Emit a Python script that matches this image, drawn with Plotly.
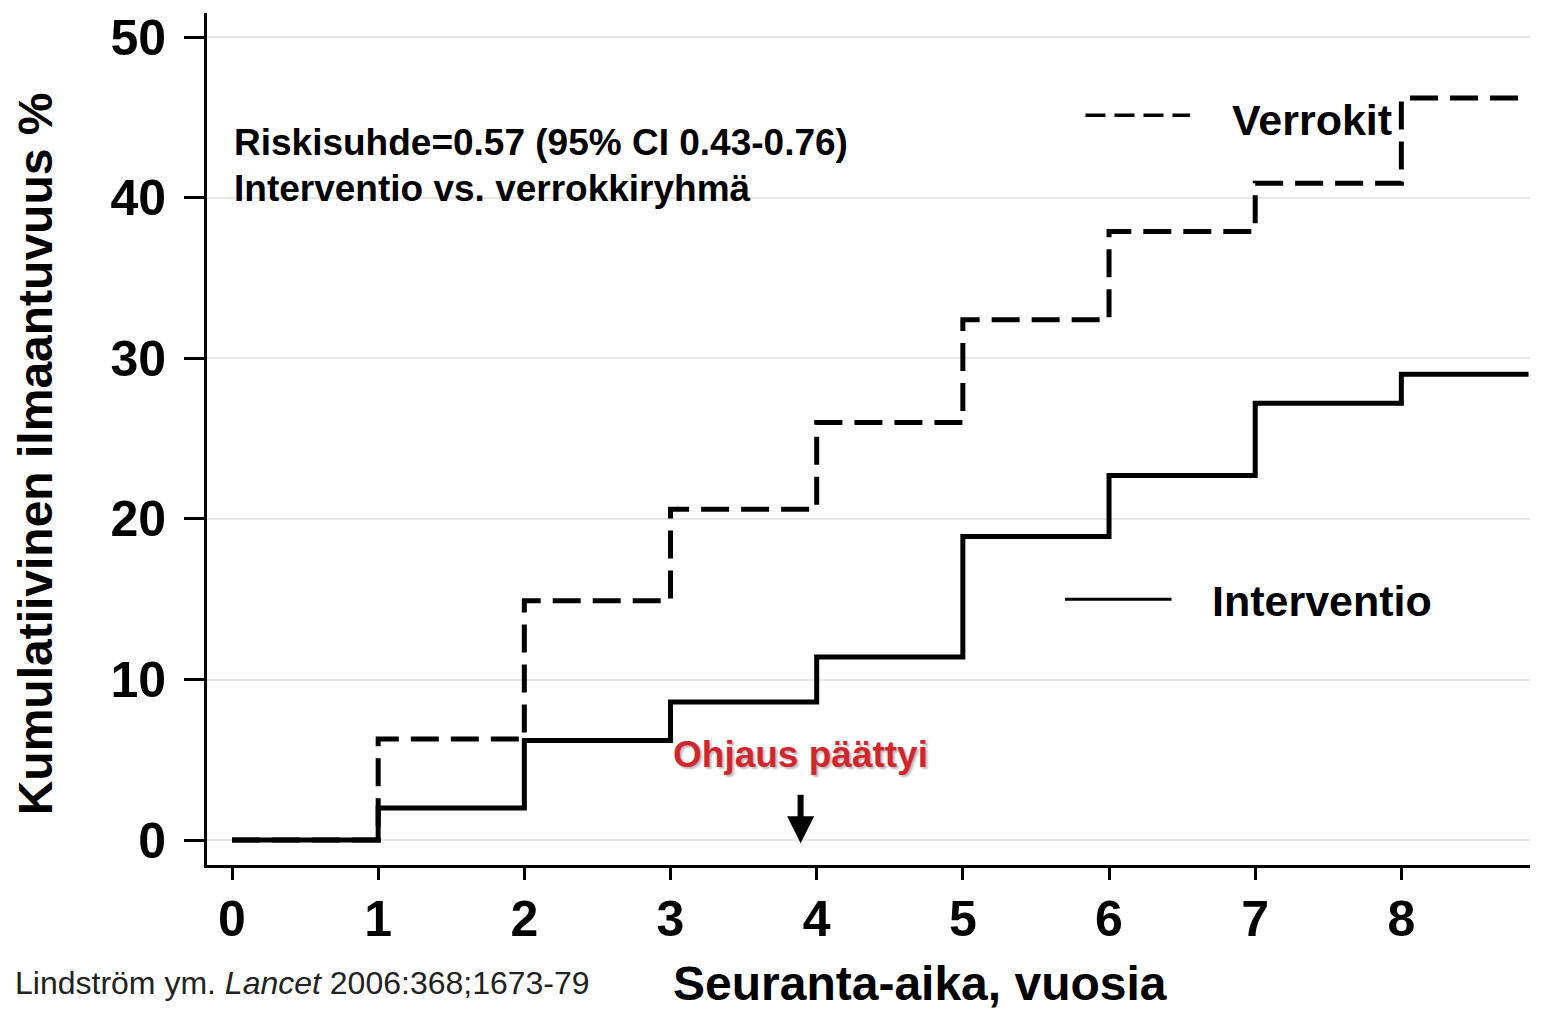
import plotly.graph_objects as go

# vuodet (seuranta-aika) ja kumulatiivinen ilmaantuvuus %
vuodet = [0, 1, 2, 3, 4, 5, 6, 7, 8, 8.87]
interventio = [0.0, 2.0, 6.2, 8.6, 11.4, 18.9, 22.7, 27.2, 29.0, 29.0]
verrokit = [0.0, 6.3, 14.9, 20.6, 26.0, 32.4, 37.9, 40.9, 46.2, 46.2]

x_ticks = [0, 1, 2, 3, 4, 5, 6, 7, 8]
y_ticks = [0, 10, 20, 30, 40, 50]
ohjaus_paattyi = 3.89

FONT = "Arial, Liberation Sans, sans-serif"

fig = go.Figure()

fig.add_trace(go.Scatter(
    x=vuodet, y=verrokit, mode="lines", line_shape="hv",
    line=dict(color="black", width=5, dash="28px,12px"),
    showlegend=False, hoverinfo="skip",
))
fig.add_trace(go.Scatter(
    x=vuodet, y=interventio, mode="lines", line_shape="hv",
    line=dict(color="black", width=5),
    showlegend=False, hoverinfo="skip",
))

# ── legendan viivat ja tekstit ─────────────────────
fig.add_shape(type="line", xref="paper", yref="paper",
              x0=0.664, x1=0.743, y0=0.880, y1=0.880,
              line=dict(color="black", width=3.5, dash="20px,9px"))
fig.add_annotation(x=0.773, y=0.875, xref="paper", yref="paper",
                   text="<b>Verrokit</b>", showarrow=False,
                   xanchor="left", yanchor="middle",
                   font=dict(size=43, color="black", family=FONT))
fig.add_shape(type="line", xref="paper", yref="paper",
              x0=0.6485, x1=0.729, y0=0.312, y1=0.312,
              line=dict(color="black", width=3))
fig.add_annotation(x=0.758, y=0.310, xref="paper", yref="paper",
                   text="<b>Interventio</b>", showarrow=False,
                   xanchor="left", yanchor="middle",
                   font=dict(size=43, color="black", family=FONT))

# ── riskisuhde ────────────────────────────────────
fig.add_annotation(x=0.019, y=0.848, xref="paper", yref="paper",
                   text="<b>Riskisuhde=0.57 (95% CI 0.43-0.76)</b>",
                   showarrow=False, xanchor="left", yanchor="middle",
                   font=dict(size=37, color="black", family=FONT))
fig.add_annotation(x=0.019, y=0.794, xref="paper", yref="paper",
                   text="<b>Interventio vs. verrokkiryhmä</b>",
                   showarrow=False, xanchor="left", yanchor="middle",
                   font=dict(size=37, color="black", family=FONT))

# ── ohjaus päättyi ────────────────────────────────
fig.add_annotation(x=ohjaus_paattyi, y=5.3, xref="x", yref="y",
                   text="<b>Ohjaus päättyi</b>", showarrow=False,
                   xanchor="center", yanchor="middle",
                   font=dict(size=37, color="#d0262d", family=FONT,
                             shadow="2px 2px 2px #bbbbbb"))
fig.add_annotation(x=ohjaus_paattyi, y=-0.2, xref="x", yref="y",
                   ax=0, ay=-50, text="", showarrow=True,
                   arrowhead=2, arrowsize=0.9, arrowwidth=6, arrowcolor="black")

# ── akselien otsikot ja lähde ─────────────────────
fig.add_annotation(x=-0.130, y=0.482, xref="paper", yref="paper",
                   text="<b>Kumulatiivinen ilmaantuvuus %</b>", textangle=-90,
                   showarrow=False, xanchor="center", yanchor="middle",
                   font=dict(size=48, color="black", family=FONT))
fig.add_annotation(x=0.539, y=-0.139, xref="paper", yref="paper",
                   text="<b>Seuranta-aika, vuosia</b>",
                   showarrow=False, xanchor="center", yanchor="middle",
                   font=dict(size=48, color="black", family=FONT))
fig.add_annotation(x=-0.1465, y=-0.139, xref="paper", yref="paper",
                   text="Lindström ym. <i>Lancet</i> 2006:368;1673-79",
                   showarrow=False, xanchor="left", yanchor="middle",
                   font=dict(size=32, color="#222222", family=FONT))

fig.update_xaxes(
    range=[-0.171, 8.88], tickvals=x_ticks,
    showgrid=False, zeroline=False,
    showline=True, linecolor="black", linewidth=3,
    ticks="outside", ticklen=12, tickwidth=3, tickcolor="black",
    tickfont=dict(size=50, color="black", family=FONT, weight="bold"),
    ticklabelstandoff=-4, ticklabeloverflow="allow",
)
fig.update_yaxes(
    range=[-1.55, 51.5], tickvals=y_ticks,
    showgrid=True, gridcolor="#e6e6e6", gridwidth=1.5, zeroline=False,
    showline=True, linecolor="black", linewidth=3,
    ticks="outside", ticklen=20, tickwidth=3, tickcolor="black",
    tickfont=dict(size=50, color="black", family=FONT, weight="bold"),
    ticklabelstandoff=8, ticklabeloverflow="allow",
)

fig.update_layout(
    width=1557, height=1004,
    plot_bgcolor="white", paper_bgcolor="white",
    margin=dict(l=199, r=35, t=2, b=147),
    font=dict(family=FONT),
)

fig.write_html("out.html")
